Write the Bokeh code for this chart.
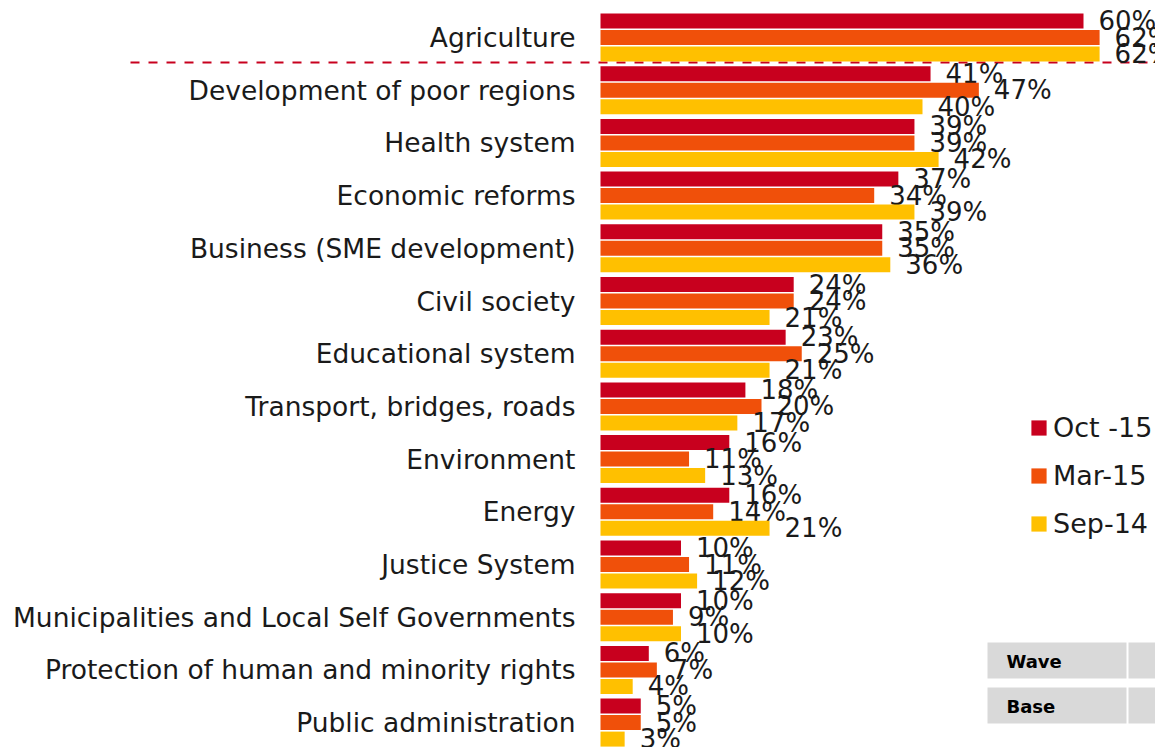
from bokeh.plotting import figure
from bokeh.models import Range1d, ColumnDataSource, Legend, LegendItem
from bokeh.core.properties import value
from bokeh.embed import file_html
from bokeh.resources import INLINE

categories = [
    "Agriculture",
    "Development of poor regions",
    "Health system",
    "Economic reforms",
    "Business (SME development)",
    "Civil society",
    "Educational system",
    "Transport, bridges, roads",
    "Environment",
    "Energy",
    "Justice System",
    "Municipalities and Local Self Governments",
    "Protection of human and minority rights",
    "Public administration",
]
oct15 = [60, 41, 39, 37, 35, 24, 23, 18, 16, 16, 10, 10, 6, 5]
mar15 = [62, 47, 39, 34, 35, 24, 25, 20, 11, 14, 11, 9, 7, 5]
sep14 = [62, 40, 42, 39, 36, 21, 21, 17, 13, 21, 12, 10, 4, 3]
series_names = ["Oct -15", "Mar-15", "Sep-14"]
series_values = [oct15, mar15, sep14]
colors = ["#C8001E", "#F0500A", "#FFC000"]
table_rows = ["Wave", "Base"]

FONT = "DejaVu Sans"
W, H = 1155, 747
ORIGIN = 600.0      # canvas px of the 0% line
PX = 8.05           # px per percent
TOP = 37.0          # canvas px of first group centre
PITCH = 52.7        # px between groups


def sx(px):
    return (px - ORIGIN) / PX


def sy(py):
    return (py - TOP) / PITCH


p = figure(width=W, height=H, output_backend="svg", toolbar_location=None,
           x_range=Range1d(sx(0), sx(W)), y_range=Range1d(sy(H), sy(0)),
           x_axis_location=None, y_axis_location=None, min_border=0)
p.outline_line_color = None
p.xgrid.visible = False
p.ygrid.visible = False
p.background_fill_color = "white"

idx = list(range(len(categories)))
offsets = [-16.5 / PITCH, 0.0, 16.5 / PITCH]
bar_h = 15 / PITCH

# dashed separator below first category
p.segment(x0=sx(130), x1=sx(W), y0=sy(62), y1=sy(62), line_color="#C8001E",
          line_width=2, line_dash="9 9")

renderers = []
for name, vals, col, off in zip(series_names, series_values, colors, offsets):
    src = ColumnDataSource(dict(y=[i + off for i in idx], v=vals,
                                lab=[f"{v}%" for v in vals]))
    r = p.hbar(y="y", left=0, right="v", height=bar_h, source=src,
               fill_color=col, line_color=None)
    renderers.append(r)
    p.text(x="v", y="y", text="lab", source=src, x_offset=15,
           text_baseline="middle", text_align="left",
           text_font=value(FONT), text_font_size="26px", text_color="#1a1a1a")

# category labels
csrc = ColumnDataSource(dict(y=idx, c=categories))
p.text(x=0, y="y", text="c", source=csrc, x_offset=-25, text_align="right",
       text_baseline="middle", text_font=value(FONT), text_font_size="26.5px",
       text_color="#1a1a1a")

# legend
legend = Legend(items=[LegendItem(label=n, renderers=[r]) for n, r in zip(series_names, renderers)],
                location=(1029, 208), orientation="vertical",
                glyph_width=19, glyph_height=19, label_standoff=5,
                label_text_font=FONT, label_text_font_size="27px",
                label_text_color="#1a1a1a",
                spacing=17, padding=0, margin=0,
                border_line_color=None, background_fill_alpha=0)
p.add_layout(legend, "center")

# small table at bottom right
box_tops = [642, 687]
for lab, t in zip(table_rows, box_tops):
    p.quad(left=sx(987), right=sx(1126), top=sy(t), bottom=sy(t + 36),
           fill_color="#D9D9D9", line_color=None)
    p.quad(left=sx(1128), right=sx(W), top=sy(t), bottom=sy(t + 36),
           fill_color="#D9D9D9", line_color=None)
    p.text(x=sx(1006), y=sy(t + 19), text=[lab], text_baseline="middle",
           text_font=value(FONT), text_font_size="18px",
           text_font_style="bold", text_color="#000000")

open("out.html", "w").write(file_html(p, INLINE))
